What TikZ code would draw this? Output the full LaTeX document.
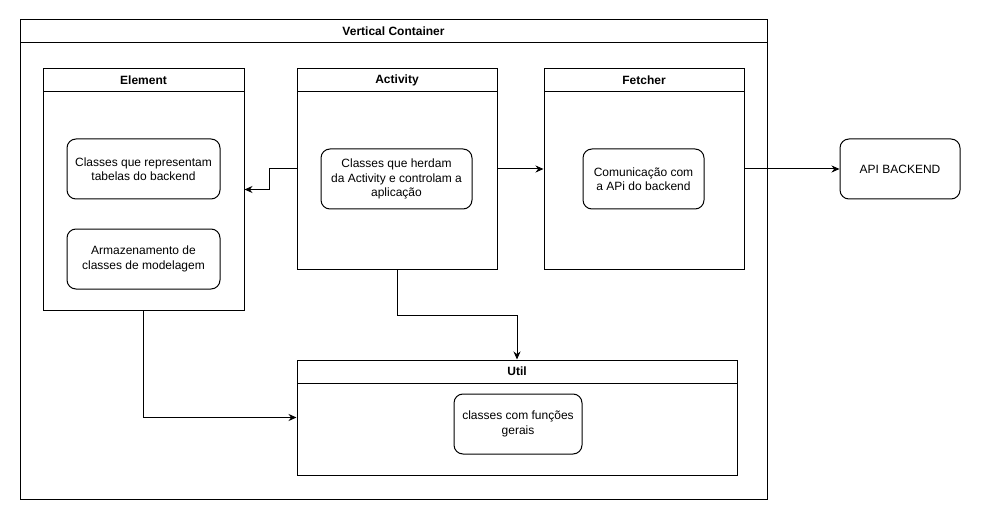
\documentclass[tikz,border=0pt]{standalone}
\usepackage{fontspec}
\setmainfont{Liberation Sans}
\usetikzlibrary{arrows.meta, positioning, calc}

\begin{document}
\begin{tikzpicture}[
  x=1pt, y=-1pt,
  font=\fontsize{12}{14.5}\selectfont,
  lane/.style={draw, line width=1pt, inner sep=0pt},
  lanehead/.style={draw, line width=1pt, minimum height=23pt, inner sep=0pt, anchor=north, font=\fontsize{12}{14.5}\selectfont\bfseries},
  classbox/.style={draw, line width=1pt, rounded corners=9pt, minimum height=60pt, align=center, inner sep=0pt},
  arr/.style={line width=1pt, -{Stealth[length=8pt, width=7pt]}}
]
  \useasboundingbox (0,0) rectangle (981,521);

  % outer container
  \node[lane, minimum width=747pt, minimum height=479pt] (container) at (393.5,259.5) {};
  \node[lanehead, minimum width=747pt] (containerhead) at (container.north) {Vertical Container};

  % lanes
  \node[lane, minimum width=201pt, minimum height=241pt] (element) at (143.5,189.5) {};
  \node[lanehead, minimum width=201pt] (elementhead) at (element.north) {Element};

  \node[lane, minimum width=200pt, minimum height=200pt] (activity) at (397,169) {};
  \node[lanehead, minimum width=200pt] (activityhead) at (activity.north) {Activity};

  \node[lane, minimum width=200pt, minimum height=200pt] (fetcher) at (644,169) {};
  \node[lanehead, minimum width=200pt] (fetcherhead) at (fetcher.north) {Fetcher};

  \node[lane, minimum width=440pt, minimum height=115pt] (util) at (517,417.5) {};
  \node[lanehead, minimum width=440pt] (utilhead) at (util.north) {Util};

  % inner classes
  \node[classbox, minimum width=153pt] (tables) at (143.5,169) {Classes que representam\\tabelas do backend};
  \node[classbox, minimum width=153pt] (models) at (143.5,259) {Armazenamento de\\classes de modelagem};
  \node[classbox, minimum width=151pt] (activities) at (396.5,179) {Classes que herdam\\da Activity e controlam a\\aplicação};
  \node[classbox, minimum width=121pt] (comm) at (643.5,179) {Comunicação com\\a APi do backend};
  \node[classbox, minimum width=128pt] (helpers) at (518,424) {classes com funções\\gerais};

  \node[classbox, minimum width=120pt] (api) at (900,169) {API BACKEND};

  % connectors
  \draw[arr] (activity.west) -- ++(-27,0) |- (element.east);
  \draw[arr] (activity.east) -- (fetcher.west);
  \draw[arr] (fetcher.east) -- (api.west);
  \draw[arr] (activity.south) -- ++(0,46) -| (util.north);
  \draw[arr] (element.south) |- (util.west);
\end{tikzpicture}
\end{document}
